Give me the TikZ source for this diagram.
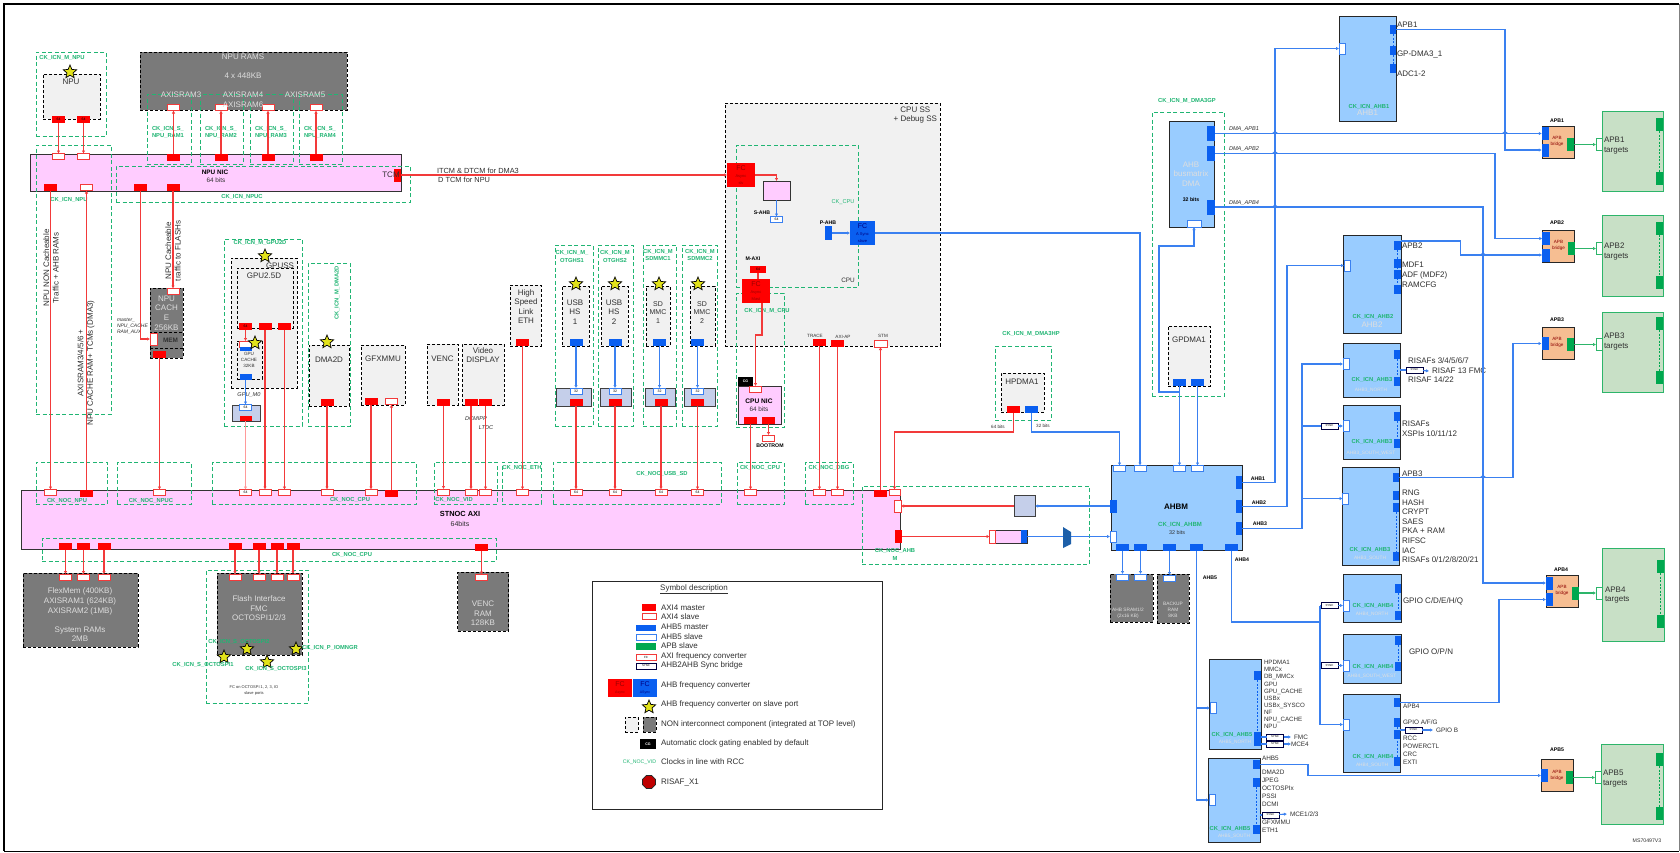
\documentclass[tikz,border=0pt]{standalone}
\usepackage{fontspec}
\setmainfont{Liberation Sans}
\usetikzlibrary{arrows.meta}
\usetikzlibrary{shapes.geometric}
\definecolor{axired}{HTML}{FF0000}
\definecolor{axiline}{HTML}{F23A3A}
\definecolor{axifade}{HTML}{FF9A9A}
\definecolor{ahbblue}{HTML}{0A5FF0}
\definecolor{ahbline}{HTML}{3A80F0}
\definecolor{apbgreen}{HTML}{00A84F}
\definecolor{ckgreen}{HTML}{20B573}
\definecolor{coregray}{HTML}{F1F1F1}
\definecolor{memgray}{HTML}{7A7A7A}
\definecolor{memtext}{HTML}{DEDEDE}
\definecolor{nocpink}{HTML}{FFCCFF}
\definecolor{ahbfill}{HTML}{99CCFF}
\definecolor{brfill}{HTML}{F6BE92}
\definecolor{tgtfill}{HTML}{C8E0C6}
\definecolor{tgtline}{HTML}{2DB56A}
\definecolor{dwfill}{HTML}{C5CFEA}
\definecolor{txtgray}{HTML}{303030}
\definecolor{starfill}{HTML}{E2E21A}
\definecolor{muxblue}{HTML}{1D5FA8}
\tikzset{
        wh/.style 2 args={minimum width=#1pt, minimum height=#2pt},
        plain/.style={inner sep=0pt, outer sep=0pt},
        corebox/.style={plain, draw=black, fill=coregray, line width=0.9pt, dash pattern=on 3pt off 2pt},
        membox/.style={plain, draw=black, fill=memgray, line width=0.9pt, dash pattern=on 3pt off 2pt},
        ckbox/.style={plain, draw=ckgreen, line width=0.9pt, dash pattern=on 4pt off 2.5pt},
        nocbox/.style={plain, draw=black!80, fill=nocpink, line width=0.9pt},
        ahbbox/.style={plain, draw=black!85, fill=ahbfill, line width=1pt},
        brbox/.style={plain, draw=black!85, fill=brfill, line width=0.8pt},
        tgtbox/.style={plain, draw=tgtline, fill=tgtfill, line width=0.9pt},
        dwbox/.style={plain, draw=black!75, fill=dwfill, line width=0.9pt},
        syncbox/.style={plain, draw=black!75!blue, fill=white, line width=0.6pt, minimum width=17pt, minimum height=6pt, font=\fontsize{2.8}{3}\selectfont},
        mred/.style={plain, fill=axired, minimum width=13pt, minimum height=7pt, font=\fontsize{3.5}{4}\selectfont},
        sred/.style={plain, draw=axiline, fill=white, line width=0.7pt, minimum width=12pt, minimum height=6pt, font=\fontsize{3.5}{4}\selectfont},
        mblue/.style={plain, fill=ahbblue, minimum width=13pt, minimum height=7pt},
        sblue/.style={plain, draw=ahbline, fill=white, line width=0.7pt, minimum width=12pt, minimum height=6pt, font=\fontsize{3.5}{4}\selectfont},
        mbluev/.style={plain, fill=ahbblue, minimum width=6.5pt, minimum height=9pt},
        sbluev/.style={plain, draw=ahbline, fill=white, line width=0.7pt, minimum width=6pt, minimum height=11pt},
        mgreen/.style={plain, fill=apbgreen, minimum width=7pt, minimum height=13pt},
        sgreen/.style={plain, draw=tgtline, fill=white, line width=0.7pt, minimum width=6pt, minimum height=12pt},
        fcred/.style={plain, fill=axired, text=red!60!black, align=center, wh={28}{24}, font=\fontsize{4}{7}\selectfont},
        fcblue/.style={plain, fill=ahbblue, text=blue!50!black, align=center, wh={25}{24}, font=\fontsize{4}{7}\selectfont},
        fcstar/.style={plain, star, star points=5, star point ratio=2.2, draw=black, fill=starfill, line width=0.7pt, minimum size=14pt},
        lbl/.style={plain, text=txtgray, align=center, font=\fontsize{8}{9.6}\selectfont},
        lbs/.style={plain, text=txtgray, align=center, font=\fontsize{6.4}{7.4}\selectfont},
        lbt/.style={plain, text=txtgray, align=center, font=\fontsize{4.6}{5.8}\selectfont},
        lbb/.style={plain, text=black, align=center, font=\bfseries\fontsize{5.2}{6}\selectfont},
        lbm/.style={plain, text=memtext, align=center, font=\fontsize{8}{9.6}\selectfont},
        lbmt/.style={plain, text=memtext, align=center, font=\fontsize{4.8}{6.2}\selectfont},
        lbi/.style={plain, text=txtgray, align=left, font=\itshape\fontsize{5.6}{6.6}\selectfont},
        ck/.style={plain, text=ckgreen, align=center, font=\bfseries\fontsize{5.8}{7.6}\selectfont},
        redline/.style={draw=axiline, line width=1.1pt, -{Latex[length=3pt,width=3.4pt]}},
        redfade/.style={draw=axifade, line width=1.1pt, -{Latex[length=3pt,width=3.4pt]}},
        blueline/.style={draw=ahbline, line width=1.1pt, -{Latex[length=3pt,width=3.4pt]}},
        bluebare/.style={draw=ahbline, line width=1.1pt},
        bluedash/.style={draw=ahbblue, line width=0.7pt, dash pattern=on 2pt off 1.5pt},
        greenline/.style={draw=tgtline, line width=1.1pt, -{Latex[length=3pt,width=3.4pt]}},
        greendash/.style={draw=apbgreen, line width=0.7pt, dash pattern=on 2pt off 1.5pt}
}
\begin{document}
\begin{tikzpicture}[x=1pt, y=-1pt]
        \useasboundingbox (0,0) rectangle (1680,852);
        \fill[white] (0,0) rectangle (1680,852);
        \draw[black!50, line width=0.6pt] (1679,4) -- (1679,851);
        \draw[black, line width=1.4pt] (1679,4) -- (4,4) -- (4,851);
        \draw[black, line width=1pt] (4,851) -- (1679,851);

        \node[corebox, wh={57}{45}] (npu) at (71.5,96.5) {};
        \node[membox, wh={207}{58}] (npurams) at (243.5,81) {};
        \node[nocbox, wh={371}{37}] (npunic) at (215.5,172.5) {};
        \node[membox, wh={33}{70}] (npucache) at (166.5,323) {};
        \node[membox, wh={33}{16}] (npumem) at (166.5,340) {};
        \node[corebox, wh={66}{130}] (gpuss) at (264,323) {};
        \node[corebox, wh={56}{60}] (gpu) at (265,298) {};
        \node[corebox, wh={25}{38}] (gpucache) at (249.5,360) {};
        \node[dwbox, wh={28}{16}] (gpudw) at (246,413) {};
        \node[corebox, wh={40}{61}] (dmatwod) at (329,375.5) {};
        \node[corebox, wh={44}{60}] (gfxmmu) at (383,375) {};
        \node[corebox, wh={31}{61}] (venc) at (442.5,374.5) {};
        \node[corebox, wh={42}{61}] (display) at (483,374.5) {};
        \node[corebox, wh={31}{61}] (eth) at (525.5,315.5) {};
        \node[corebox, wh={27}{60}] (usb1) at (575.5,316) {};
        \node[corebox, wh={27}{60}] (usb2) at (614.5,316) {};
        \node[corebox, wh={24}{60}] (sd1) at (658,316) {};
        \node[corebox, wh={25}{60}] (sd2) at (702.5,316) {};
        \node[dwbox, wh={35}{18}] (dw1) at (573.5,397) {};
        \node[dwbox, wh={31}{18}] (dw2) at (615.5,397) {};
        \node[dwbox, wh={30}{18}] (dw3) at (660,397) {};
        \node[dwbox, wh={31}{18}] (dw4) at (699.5,397) {};
        \node[corebox, wh={215}{243}] (cpuss) at (832.5,224.5) {};
        \node[nocbox, wh={27}{19}] (cpubox) at (776.5,190.5) {};
        \node[nocbox, wh={43}{38}] (cpunic) at (759.5,405) {};
        \node[nocbox, wh={879}{59}] (stnoc) at (460.5,519.5) {};
        \node[membox, wh={115}{74}] (flexmem) at (80.5,610) {};
        \node[membox, wh={85}{82}] (flash) at (259.5,614) {};
        \node[membox, wh={51}{59}] (vencram) at (483,601.5) {};
        \node[corebox, wh={43}{39}] (hpdma) at (1022.5,392.5) {};
        \node[corebox, wh={42}{60}] (gpdma) at (1189,356) {};
        \node[ahbbox, wh={45}{106}] (dmamx) at (1191.5,174) {};
        \node[ahbbox, wh={131}{85}] (ahbm) at (1176.5,507.5) {};
        \node[membox, wh={43}{48}] (sram) at (1131.5,598) {};
        \node[membox, wh={32}{49}] (backup) at (1173,598.5) {};
        \node[ahbbox, wh={57}{105}] (ahb1) at (1367.5,68.5) {};
        \node[ahbbox, wh={58}{98}] (ahb2) at (1372,284) {};
        \node[ahbbox, wh={57}{54}] (ahb3n) at (1371.5,370) {};
        \node[ahbbox, wh={57}{54}] (ahb3w) at (1371.5,432) {};
        \node[ahbbox, wh={57}{98}] (ahb3s) at (1370.5,516) {};
        \node[ahbbox, wh={58}{48}] (ahb4n) at (1372,598) {};
        \node[ahbbox, wh={58}{49}] (ahb4w) at (1372,658.5) {};
        \node[ahbbox, wh={57}{78}] (ahb4s) at (1371.5,733) {};
        \node[ahbbox, wh={52}{90}] (ahb5n) at (1235,704) {};
        \node[ahbbox, wh={52}{84}] (ahb5s) at (1234,800) {};
        \node[brbox, wh={32}{32}] (apb1) at (1558,142) {};
        \node[brbox, wh={32}{32}] (apb2) at (1558.5,246) {};
        \node[brbox, wh={32}{32}] (apb3) at (1558,343) {};
        \node[brbox, wh={32}{32}] (apb4) at (1562,591) {};
        \node[brbox, wh={32}{32}] (apb5) at (1557,775) {};
        \node[tgtbox, wh={61}{80}] (tgt1) at (1632.5,151) {};
        \node[tgtbox, wh={61}{81}] (tgt2) at (1632.5,255.5) {};
        \node[tgtbox, wh={61}{80}] (tgt3) at (1632.5,352) {};
        \node[tgtbox, wh={62}{93}] (tgt4) at (1633,594.5) {};
        \node[tgtbox, wh={62}{80}] (tgt5) at (1632,784) {};
        \node[dwbox, wh={21}{21}] (noccbr) at (1024.5,506) {};
        \node[nocbox, wh={38}{13}] (nocdw) at (1008,536.5) {};

        \node[ckbox, wh={70}{84}] (ckmnpu) at (71,94) {};
        \node[ckbox, wh={44}{70}] (ckram1) at (169,129) {};
        \node[ckbox, wh={43}{70}] (ckram2) at (221.5,129) {};
        \node[ckbox, wh={43}{70}] (ckram3) at (271.5,129) {};
        \node[ckbox, wh={43}{70}] (ckram4) at (320.5,129) {};
        \node[ckbox, wh={75}{269}] (cknpu) at (73.5,279.5) {};
        \node[ckbox, wh={294}{36}] (cknpuc) at (263,184) {};
        \node[ckbox, wh={78}{187}] (ckgpu) at (263,332.5) {};
        \node[ckbox, wh={42}{163}] (ckdma2d) at (329,344.5) {};
        \node[ckbox, wh={38}{181}] (ckotg1) at (574,335.5) {};
        \node[ckbox, wh={35}{181}] (ckotg2) at (615.5,335.5) {};
        \node[ckbox, wh={33}{181}] (cksd1) at (659.5,335.5) {};
        \node[ckbox, wh={35}{181}] (cksd2) at (699.5,335.5) {};
        \node[ckbox, wh={122}{142}] (ckcpu) at (797,216) {};
        \node[ckbox, wh={48}{134}] (ckmcpu) at (760,360) {};
        \node[ckbox, wh={71}{42}] (cknocnpu) at (71.5,483) {};
        \node[ckbox, wh={74}{42}] (cknocnpuc) at (154,483) {};
        \node[ckbox, wh={204}{42}] (cknoccpu) at (314,483) {};
        \node[ckbox, wh={63}{42}] (cknocvid) at (465.5,483) {};
        \node[ckbox, wh={39}{42}] (cknoceth) at (521.5,483) {};
        \node[ckbox, wh={168}{42}] (cknocusb) at (637,483) {};
        \node[ckbox, wh={47}{42}] (cknoccpb) at (760.5,483) {};
        \node[ckbox, wh={48}{42}] (cknocdbg) at (829,483) {};
        \node[ckbox, wh={454}{23}] (cknocmem) at (269,549.5) {};
        \node[ckbox, wh={227}{78}] (cknocahb) at (975.5,525) {};
        \node[ckbox, wh={102}{133}] (ckflash) at (257,636.5) {};
        \node[ckbox, wh={56}{74}] (ckdmahp) at (1023,383) {};
        \node[ckbox, wh={72}{284}] (ckdmagp) at (1188,254) {};

        \node[mred] (npum1) at (58.5,119.5) {64};
        \node[mred] (npum2) at (83.5,119.5) {64};
        \node[sred] (nics1) at (58.5,156.5) {};
        \node[sred] (nics2) at (83.5,156.5) {};
        \node[sred] (rams1) at (173.5,107.5) {};
        \node[sred] (rams2) at (221,107.5) {};
        \node[sred] (rams3) at (268,107.5) {};
        \node[sred] (rams4) at (316,107.5) {};
        \node[mred] (nicm1) at (173.5,157.5) {};
        \node[mred] (nicm2) at (221,157.5) {};
        \node[mred] (nicm3) at (268,157.5) {};
        \node[mred] (nicm4) at (316,157.5) {};
        \node[mred] (nicb1) at (50.5,187.5) {};
        \node[sred] (nicb2) at (86.5,187.5) {};
        \node[mred] (nicb3) at (140.5,187.5) {};
        \node[mred] (nicb4) at (173,187.5) {};
        \node[mred, wh={7}{13}] (tcm) at (397.5,175) {};
        \node[sred] (cachetop) at (173,291.5) {};
        \node[sred, wh={7}{12}] (cacheaux) at (153.5,339) {};
        \node[mred] (cachem) at (159.5,354.5) {};
        \node[mred] (gpum1) at (245.5,326) {64};
        \node[mred] (gpum2) at (265,326) {};
        \node[mred] (gpum3) at (284.5,326) {};
        \node[sred] (cachegs) at (245.5,344) {};
        \node[mblue, wh={12}{4}] (cachegb) at (245.5,349) {};
        \node[mblue, wh={12}{6}] (cachegm) at (245.5,377) {};
        \node[sblue] (gpudws) at (245.5,407.5) {64};
        \node[mred, wh={12}{5.5}] (gpudwm) at (245.5,418.5) {};
        \node[mred] (dmam) at (327,402.5) {};
        \node[mred] (gfxm) at (371,401.5) {};
        \node[sred] (gfxs) at (391.5,401.5) {};
        \node[mred] (vencm) at (443.5,402) {};
        \node[mred] (dispm1) at (471,402.5) {};
        \node[mred] (dispm2) at (485.5,402.5) {};
        \node[mred] (ethm) at (522.5,342.5) {};
        \node[mblue] (usb1m) at (576,342.5) {};
        \node[mblue] (usb2m) at (615,342.5) {};
        \node[mblue] (sd1m) at (659.5,342.5) {};
        \node[mblue] (sd2m) at (697.5,342.5) {};
        \node[sblue] (dw1s) at (576,391) {32};
        \node[sblue] (dw2s) at (615,391) {32};
        \node[sblue] (dw3s) at (659.5,391) {32};
        \node[sblue] (dw4s) at (697.5,391) {32};
        \node[mred] (dw1m) at (576,402.5) {};
        \node[mred] (dw2m) at (615,402.5) {};
        \node[mred] (dw3m) at (661,402.5) {};
        \node[mred] (dw4m) at (697.5,402.5) {};
        \node[mred, wh={16}{7}] (maxi) at (758,269.5) {64};
        \node[fcred] (fcslv) at (741,175) {{\fontsize{7}{7}\selectfont FC}\\Async\\slv};
        \node[fcred] (fcmst) at (756,291) {{\fontsize{7}{7}\selectfont FC}\\Async\\Mast};
        \node[fcblue] (fcahb) at (862.5,233) {{\fontsize{7}{7}\selectfont FC}\\A Sync\\slave};
        \node[sblue] (sahb) at (776.5,219.5) {64};
        \node[mblue, wh={7}{14}] (pahb) at (828.5,233) {};
        \node[sred] (cpunics) at (755.5,389) {};
        \node[plain, fill=black, text=white, wh={15}{9}, font=\bfseries\fontsize{3.6}{4}\selectfont] (cpucg) at (745.5,381.5) {CG};
        \node[mred] (cpum1) at (750.5,420.5) {};
        \node[mred] (cpum2) at (768.5,420.5) {};
        \node[sred] (bootrom) at (768.5,438) {};
        \node[mred] (tracem) at (819.5,342.5) {};
        \node[mred] (axiapm) at (837.5,343.5) {};
        \node[sred, wh={13}{7}] (stms) at (880.5,343.5) {};

        \node[sred] (nocs1) at (50.5,492.5) {};
        \node[mred] (nocm1) at (86.5,493.5) {};
        \node[sred] (nocs2) at (159.5,492.5) {};
        \node[sred] (nocs3) at (245.5,492.5) {64};
        \node[sred] (nocs4) at (265,492.5) {};
        \node[sred] (nocs5) at (284.5,492.5) {};
        \node[sred] (nocs6) at (327,492.5) {};
        \node[sred] (nocs7) at (371,492.5) {};
        \node[mred] (nocm2) at (391.5,493.5) {};
        \node[sred] (nocs8) at (443.5,492) {};
        \node[sred] (nocs9) at (471,492.5) {};
        \node[sred] (nocs10) at (485.5,492.5) {};
        \node[sred] (nocs11) at (522.5,492.5) {};
        \node[sred] (nocs12) at (576,492.5) {64};
        \node[sred] (nocs13) at (615,492.5) {64};
        \node[sred] (nocs14) at (661,492.5) {64};
        \node[sred] (nocs15) at (697.5,492.5) {64};
        \node[sred] (nocs16) at (750.5,492.5) {};
        \node[sred] (nocs17) at (819.5,492.5) {};
        \node[sred] (nocs18) at (837.5,492.5) {};
        \node[mred] (nocm3) at (880.5,493) {};
        \node[sred, wh={11}{6}] (nocs19) at (894.5,492.5) {};
        \node[sred, wh={7}{12}] (nocs20) at (897.5,506) {};
        \node[mred, wh={7}{13}] (nocm4) at (898.5,536.5) {};

        \node[mred] (nocb1) at (65.5,546) {};
        \node[mred] (nocb2) at (83.5,546) {};
        \node[mred] (nocb3) at (104,546) {};
        \node[mred] (nocb4) at (235,546) {};
        \node[mred] (nocb5) at (259,546) {};
        \node[mred] (nocb6) at (277,546) {};
        \node[mred] (nocb7) at (293,546) {};
        \node[mred] (nocb8) at (481.5,547.5) {};
        \node[sred] (mems1) at (65.5,577) {};
        \node[sred] (mems2) at (83.5,577) {};
        \node[sred] (mems3) at (104,577) {};
        \node[sred] (flashs1) at (235,577) {};
        \node[sred] (flashs2) at (259,577) {};
        \node[sred] (flashs3) at (277,577) {};
        \node[sred] (flashs4) at (293,577) {};
        \node[sred] (vencrams) at (481.5,577.5) {};

        \node[mred] (hpm1) at (1013.5,409) {};
        \node[mblue] (hpm2) at (1031.5,409) {};
        \node[mblue] (gpm1) at (1179.5,382.5) {};
        \node[mblue] (gpm2) at (1197.5,382.5) {};
        \node[mbluev, wh={8}{15}] (dmam1) at (1211,133.5) {};
        \node[mbluev, wh={8}{15}] (dmam2) at (1211,153.5) {};
        \node[mbluev, wh={8}{15}] (dmam3) at (1211,207) {};
        \node[sblue, wh={14}{7}] (dmas) at (1194,223.5) {};
        \node[sblue] (ahbms1) at (1119.5,468.5) {};
        \node[sblue] (ahbms2) at (1140,468.5) {};
        \node[sblue] (ahbms3) at (1179.5,468.5) {};
        \node[sblue] (ahbms4) at (1197.5,468.5) {};
        \node[sbluev] (ahbms5) at (1113,536.5) {};
        \node[mbluev, wh={7}{13}] (ahbml) at (1113.5,506) {};
        \node[mbluev, wh={6.5}{13}] (ahbmr1) at (1239,482.5) {};
        \node[mbluev, wh={6.5}{13}] (ahbmr2) at (1239,506.5) {};
        \node[mbluev, wh={6.5}{13}] (ahbmr3) at (1239,528.5) {};
        \node[mblue] (ahbmb1) at (1122.5,547) {};
        \node[mblue] (ahbmb2) at (1140.5,547) {};
        \node[mblue] (ahbmb3) at (1169.5,547.5) {};
        \node[mblue] (ahbmb4) at (1196.5,547) {};
        \node[mblue] (ahbmb5) at (1231.5,547) {};
        \node[sblue] (srams1) at (1122.5,577) {};
        \node[sblue] (srams2) at (1140.5,577) {};
        \node[sblue] (backups) at (1169.5,578) {};
        \node[sbluev, wh={6}{13}, draw=axiline] (nocdws) at (992.5,536.5) {};
        \node[mbluev, wh={6.5}{13}] (nocdwm) at (1024,536.5) {};

        \node[sbluev] (ahb1s) at (1342,48.5) {};
        \node[mbluev] (ahb1m1) at (1393,29.5) {};
        \node[mbluev] (ahb1m2) at (1393,50.5) {};
        \node[mbluev] (ahb1m3) at (1393,68.5) {};
        \node[sbluev] (ahb2s) at (1347,265.5) {};
        \node[mbluev] (ahb2m1) at (1397.5,245) {};
        \node[mbluev] (ahb2m2) at (1397.5,263.5) {};
        \node[mbluev] (ahb2m3) at (1397.5,274) {};
        \node[mbluev] (ahb2m4) at (1397.5,289.5) {};
        \node[sbluev] (ahb3ns) at (1346,364) {};
        \node[mbluev] (ahb3nm1) at (1397,354.5) {};
        \node[mbluev] (ahb3nm2) at (1397,381) {};
        \node[sbluev] (ahb3ws) at (1346,426) {};
        \node[mbluev] (ahb3wm1) at (1397,416.5) {};
        \node[mbluev] (ahb3wm2) at (1397,443.5) {};
        \node[sbluev] (ahb3ss) at (1345.5,498.5) {};
        \node[mbluev] (ahb3sm1) at (1396,477.5) {};
        \node[mbluev] (ahb3sm2) at (1396,495) {};
        \node[mbluev] (ahb3sm3) at (1396,507.5) {};
        \node[mbluev] (ahb3sm4) at (1396,556.5) {};
        \node[sbluev] (ahb4ns) at (1346,605.5) {};
        \node[mbluev] (ahb4nm1) at (1398,588.5) {};
        \node[mbluev] (ahb4nm2) at (1398,615) {};
        \node[sbluev] (ahb4ws) at (1346,665.5) {};
        \node[mbluev] (ahb4wm1) at (1398,640.5) {};
        \node[mbluev] (ahb4wm2) at (1398,666.5) {};
        \node[sbluev] (ahb4ss) at (1346,724.5) {};
        \node[mbluev] (ahb4sm1) at (1397,702.5) {};
        \node[mbluev] (ahb4sm2) at (1397,722) {};
        \node[mbluev] (ahb4sm3) at (1397,734.5) {};
        \node[mbluev] (ahb4sm4) at (1397,761.5) {};
        \node[sbluev] (ahb5ns) at (1213,708) {};
        \node[mbluev] (ahb5nm1) at (1257.5,675.5) {};
        \node[mbluev, wh={7}{14}] (ahb5nm2) at (1257.5,739) {};
        \node[sbluev] (ahb5ss) at (1212,800) {};
        \node[mbluev] (ahb5sm1) at (1256.5,764.5) {};
        \node[mbluev] (ahb5sm2) at (1256.5,782) {};
        \node[mbluev] (ahb5sm3) at (1256.5,829) {};

        \node[mbluev, wh={7.5}{13}] (apb1a) at (1545.5,133.5) {};
        \node[mbluev, wh={7.5}{13}] (apb1b) at (1545.5,150) {};
        \node[mgreen] (apb1g) at (1570.5,144.5) {};
        \node[sgreen] (tgt1s) at (1599,144.5) {};
        \node[mgreen] (tgt1m1) at (1659.5,124.5) {};
        \node[mgreen] (tgt1m2) at (1659.5,178.5) {};
        \node[mbluev, wh={7.5}{13}] (apb2a) at (1546,238.5) {};
        \node[mbluev, wh={7.5}{13}] (apb2b) at (1546,255) {};
        \node[mgreen] (apb2g) at (1571,248.5) {};
        \node[sgreen] (tgt2s) at (1599,248.5) {};
        \node[mgreen] (tgt2m1) at (1659.5,228) {};
        \node[mgreen] (tgt2m2) at (1659.5,282.5) {};
        \node[mbluev, wh={7}{13}] (apb3a) at (1545,343.5) {};
        \node[mgreen] (apb3g) at (1570.5,344.5) {};
        \node[sgreen] (tgt3s) at (1599,344.5) {};
        \node[mgreen] (tgt3m1) at (1659.5,323.5) {};
        \node[mgreen] (tgt3m2) at (1659.5,377.5) {};
        \node[mbluev, wh={7}{13}] (apb4a) at (1549.5,583) {};
        \node[mbluev, wh={7}{13}] (apb4b) at (1549.5,599.5) {};
        \node[mgreen] (apb4g) at (1575.5,593) {};
        \node[sgreen] (tgt4s) at (1599,593) {};
        \node[mgreen] (tgt4m1) at (1660.5,566.5) {};
        \node[mgreen] (tgt4m2) at (1660.5,621.5) {};
        \node[mbluev, wh={7}{13}] (apb5a) at (1544.5,775.5) {};
        \node[mgreen] (apb5g) at (1569.5,777.5) {};
        \node[sgreen] (tgt5s) at (1598,777.5) {};
        \node[mgreen] (tgt5m1) at (1659.5,759.5) {};
        \node[mgreen] (tgt5m2) at (1659.5,813.5) {};

        \node[syncbox] (syncr) at (1414.5,370) {SYNC};
        \node[syncbox] (syncw) at (1329.5,426) {SYNC};
        \node[syncbox] (syncgn) at (1329.5,605.5) {SYNC};
        \node[syncbox] (syncgw) at (1329.5,665.5) {SYNC};
        \node[syncbox] (syncgb) at (1413.5,730) {SYNC};
        \node[syncbox] (syncfmc) at (1275,737) {SYNC};
        \node[syncbox] (syncmce) at (1275,744) {SYNC};
        \node[syncbox] (syncmc) at (1270.5,815) {SYNC};

        \node[fcstar] (starnpu) at (70,72) {};
        \node[fcstar] (stargpu) at (265,256) {};
        \node[fcstar] (starcache) at (255,343) {};
        \node[fcstar] (stardma) at (327,342) {};
        \node[fcstar] (starusb1) at (576,284) {};
        \node[fcstar] (starusb2) at (615,284) {};
        \node[fcstar] (starsd1) at (659,284) {};
        \node[fcstar] (starsd2) at (698,284) {};
        \node[fcstar] (starfl1) at (224,657) {};
        \node[fcstar] (starfl2) at (247,649) {};
        \node[fcstar] (starfl3) at (267,662) {};
        \node[fcstar] (starfl4) at (296,649) {};

        \node[plain, draw=black!85, fill=white, line width=0.9pt, wh={290}{228}] (legend) at (737,695) {};
        \node[lbl] (lgtitle) at (694,589) {\underline{Symbol description}};
        \node[plain, fill=axired, wh={14}{7}] (lg1) at (649,607.5) {};
        \node[plain, draw=axiline, fill=white, line width=0.7pt, wh={14}{6}] (lg2) at (649,616) {};
        \node[plain, fill=ahbblue, wh={20}{6.5}] (lg3) at (646,628) {};
        \node[plain, draw=ahbline, fill=white, line width=0.7pt, wh={20}{6.5}] (lg4) at (646,637.5) {};
        \node[plain, fill=apbgreen, wh={20}{7}] (lg5) at (646,646.5) {};
        \node[plain, draw=axiline, fill=white, line width=0.7pt, wh={20}{6.5}, font=\fontsize{3}{3}\selectfont] (lg6) at (646,657.5) {FC};
        \node[syncbox, wh={20}{6}] (lg7) at (646,666) {SYNC};
        \node[fcred, wh={24}{18}, font=\fontsize{3.6}{7}\selectfont] (lg8) at (620,688) {{\fontsize{7}{7}\selectfont FC}\\Async};
        \node[fcblue, wh={24}{18}, font=\fontsize{3.6}{7}\selectfont] (lg9) at (645,688) {{\fontsize{7}{7}\selectfont FC}\\ASync};
        \node[fcstar] (lg10) at (649,707) {};
        \node[corebox, wh={13}{15}] (lg11) at (631.5,724.5) {};
        \node[membox, wh={13}{15}] (lg12) at (649.5,724.5) {};
        \node[plain, fill=black, text=white, wh={16}{10}, font=\bfseries\fontsize{3.6}{4}\selectfont] (lg13) at (648,744) {CG};
        \node[ck, anchor=east, font=\fontsize{5.2}{6}\selectfont] (lg14) at (656,762) {CK\_NOC\_VID};
        \node[plain, regular polygon, regular polygon sides=8, draw=black!85, fill=red!75!black, line width=0.7pt, minimum size=14pt] (lg15) at (649,782) {};
        \node[lbl, anchor=west] (lt1) at (661,608) {AXI4 master};
        \node[lbl, anchor=west] (lt2) at (661,617) {AXI4 slave};
        \node[lbl, anchor=west] (lt3) at (661,627) {AHB5 master};
        \node[lbl, anchor=west] (lt4) at (661,637) {AHB5 slave};
        \node[lbl, anchor=west] (lt5) at (661,646) {APB slave};
        \node[lbl, anchor=west] (lt6) at (661,656) {AXI frequency converter};
        \node[lbl, anchor=west] (lt7) at (661,665) {AHB2AHB Sync bridge};
        \node[lbl, anchor=west] (lt8) at (661,685) {AHB frequency converter};
        \node[lbl, anchor=west] (lt9) at (661,704) {AHB frequency converter on slave port};
        \node[lbl, anchor=west] (lt10) at (661,724) {NON interconnect component (integrated at TOP level)};
        \node[lbl, anchor=west] (lt11) at (661,743) {Automatic clock gating enabled by default};
        \node[lbl, anchor=west] (lt12) at (661,762) {Clocks in line with RCC};
        \node[lbl, anchor=west] (lt13) at (661,782) {RISAF\_X1};

        \node[lbl] (tnpu) at (71,82) {NPU};
        \node[lbm] (trams1) at (243,57) {NPU RAMS};
        \node[lbm] (trams2) at (243,76) {4 x 448KB};
        \node[lbm] (trams3) at (181,95) {AXISRAM3};
        \node[lbm] (trams4) at (243,95) {AXISRAM4};
        \node[lbm] (trams5) at (305,95) {AXISRAM5};
        \node[lbm] (trams6) at (243,105) {AXISRAM6};
        \node[lbb, font=\bfseries\fontsize{6.4}{7.4}\selectfont] (tnic) at (215,172) {NPU NIC};
        \node[lbs] (tnic2) at (216,180) {64 bits};
        \node[lbl] (ttcm) at (391,175) {TCM};
        \node[lbl, rotate=90] (tnon) at (51,268) {NPU NON Cacheable\\Traffic + AHB RAMs};
        \node[lbl, rotate=90] (taxi) at (86,363) {AXISRAM3/4/5/6 +\\NPU CACHE RAM+ TCMs (DMA3)};
        \node[lbl, rotate=90] (tcach) at (173,251) {NPU Cacheable\\traffic to FLASHs};
        \node[lbm] (tcache) at (166.5,313) {NPU\\CACH\\E\\256KB};
        \node[lbl, font=\bfseries\fontsize{6.4}{7.4}\selectfont] (tmem) at (170.5,340) {MEM};
        \node[lbi, anchor=north west, font=\itshape\fontsize{5}{6.2}\selectfont] (taux) at (117,318) {master\_\\NPU\_CACHE\\RAM\_AUX};
        \node[lbl] (tgpuss) at (280,266) {GPUSS};
        \node[lbl] (tgpu) at (264,276) {GPU2.5D};
        \node[lbt] (tgcache) at (249,360) {GPU\\CACHE\\32KB};
        \node[lbi] (tgm0) at (249,395) {GPU\_M0};
        \node[lbl] (tdma2d) at (329,360) {DMA2D};
        \node[lbl] (tgfx) at (383,359) {GFXMMU};
        \node[lbl] (tvenc) at (442.5,359) {VENC};
        \node[lbl] (tvid) at (483,355) {Video\\DISPLAY};
        \node[lbi, anchor=west] (tdcm) at (465,419) {DCMIPP};
        \node[lbi] (tltdc) at (486,428) {LTDC};
        \node[lbl] (teth) at (526,306.5) {High\\Speed\\Link\\ETH};
        \node[lbl] (tusb1) at (575,312) {USB\\HS\\1};
        \node[lbl] (tusb2) at (614,312) {USB\\HS\\2};
        \node[lbs, font=\fontsize{7}{8.4}\selectfont] (tsd1) at (658,312.5) {SD\\MMC\\1};
        \node[lbs, font=\fontsize{7}{8.4}\selectfont] (tsd2) at (702,312.5) {SD\\MMC\\2};
        \node[lbl, anchor=east] (tcpuss) at (937,115) {CPU SS\\+ Debug SS};
        \node[lbl, align=left, anchor=west, font=\fontsize{7.4}{9.4}\selectfont] (tdtcm) at (437,175.5) {ITCM \& DTCM for DMA3\\\,D TCM for NPU};
        \node[lbb] (tsahb) at (762,213) {S-AHB};
        \node[lbb] (tpahb) at (828,223) {P-AHB};
        \node[lbb] (tmaxi) at (753,259) {M-AXI};
        \node[lbs] (tcpu) at (848,280) {CPU};
        \node[lbb, font=\bfseries\fontsize{6.6}{8}\selectfont] (tcnic) at (759,401) {CPU NIC};
        \node[lbs] (tcnic2) at (759,409) {64 bits};
        \node[lbb] (tboot) at (770,446) {BOOTROM};
        \node[lbt] (ttrace) at (815,336) {TRACE};
        \node[lbt] (taxiap) at (843,337) {AXI-AP};
        \node[lbt] (tstm) at (883,336) {STM};
        \node[lbb, font=\bfseries\fontsize{7.4}{9}\selectfont] (tnoc) at (460,514) {STNOC AXI};
        \node[lbs, font=\fontsize{7}{8}\selectfont] (tnoc2) at (460,524) {64bits};
        \node[lbm] (tflex) at (80,615) {FlexMem (400KB)\\AXISRAM1 (624KB)\\AXISRAM2 (1MB)\\[9.6pt]System RAMs\\2MB};
        \node[lbm] (tflash) at (259,608.5) {Flash Interface\\FMC\\OCTOSPI1/2/3};
        \node[lbm] (tvram) at (483,613.5) {VENC\\RAM\\128KB};
        \node[lbt, font=\fontsize{4}{6}\selectfont] (tfcoct) at (254,691) {FC on OCTOSPI 1, 2, 3, IO\\slave ports};
        \node[lbl] (thpd) at (1022,382) {HPDMA1};
        \node[lbl] (tgpd) at (1189,340) {GPDMA1};
        \node[lbt] (t64b) at (998,427) {64 bits};
        \node[lbt] (t32b) at (1043,426) {32 bits};
        \node[lbm] (tmx) at (1191,174) {AHB\\busmatrix\\DMA};
        \node[lbb] (tmx2) at (1191,200) {32 bits};
        \node[lbi, anchor=west] (tda1) at (1229,129) {DMA\_APB1};
        \node[lbi, anchor=west] (tda2) at (1229,149) {DMA\_APB2};
        \node[lbi, anchor=west] (tda3) at (1229,203) {DMA\_APB4};
        \node[lbb, font=\bfseries\fontsize{8}{9}\selectfont] (tahbm) at (1176,507) {AHBM};
        \node[lbt, font=\fontsize{5.4}{6}\selectfont] (tahbm2) at (1177,533) {32 bits};
        \node[lbb] (tah1) at (1258,479) {AHB1};
        \node[lbb] (tah2) at (1259,503) {AHB2};
        \node[lbb] (tah3) at (1260,524) {AHB3};
        \node[lbb] (tah4) at (1242,560) {AHB4};
        \node[lbb] (tah5) at (1210,578) {AHB5};
        \node[lbmt] (tsram) at (1128,613) {AHB SRAM1/2\\(2x16 KB)};
        \node[lbmt] (tback) at (1173,610) {BACKUP\\RAM\\8KB};

        \node[lbl, anchor=west] (tg1a) at (1397,25) {APB1};
        \node[lbl, anchor=west] (tg1b) at (1397,54) {GP-DMA3\_1};
        \node[lbl, anchor=west] (tg1c) at (1397,74) {ADC1-2};
        \node[lbm] (tahb1) at (1367.5,113) {AHB1};
        \node[lbl, anchor=west] (tg2a) at (1402,246) {APB2};
        \node[lbl, anchor=west] (tg2b) at (1402,265) {MDF1};
        \node[lbl, anchor=west] (tg2c) at (1402,275) {ADF (MDF2)};
        \node[lbl, anchor=west] (tg2d) at (1402,285) {RAMCFG};
        \node[lbm] (tahb2) at (1372,325) {AHB2};
        \node[lbl, anchor=west] (tg3a) at (1408,361) {RISAFs 3/4/5/6/7};
        \node[lbl, anchor=west] (tg3b) at (1432,371) {RISAF 13 FMC};
        \node[lbl, anchor=west] (tg3c) at (1408,380) {RISAF 14/22};
        \node[lbmt] (tahb3n) at (1371,390) {AHB3\_NORTH};
        \node[lbl, anchor=west] (tg4a) at (1402,424) {RISAFs};
        \node[lbl, anchor=west] (tg4b) at (1402,434) {XSPIs 10/11/12};
        \node[lbmt] (tahb3w) at (1371,453) {AHB3\_SOUTH\_WEST};
        \node[lbl, anchor=west] (tg5a) at (1402,474) {APB3};
        \node[lbl, anchor=west] (tg5b) at (1402,493) {RNG};
        \node[lbl, anchor=west] (tg5c) at (1402,503) {HASH};
        \node[lbl, anchor=west] (tg5d) at (1402,512) {CRYPT};
        \node[lbl, anchor=west] (tg5e) at (1402,522) {SAES};
        \node[lbl, anchor=west] (tg5f) at (1402,531) {PKA + RAM};
        \node[lbl, anchor=west] (tg5g) at (1402,541) {RIFSC};
        \node[lbl, anchor=west] (tg5h) at (1402,551) {IAC};
        \node[lbl, anchor=west] (tg5i) at (1402,560) {RISAFs 0/1/2/8/20/21};
        \node[lbmt] (tahb3s) at (1370,558) {AHB3\_SOUTH};
        \node[lbl, anchor=west] (tg6a) at (1403,601) {GPIO C/D/E/H/Q};
        \node[lbmt] (tahb4n) at (1372,614) {AHB4\_NORTH};
        \node[lbl, anchor=west] (tg7a) at (1409,652) {GPIO O/P/N};
        \node[lbmt] (tahb4w) at (1372,676) {AHB4\_SOUTH\_WEST};
        \node[lbs, anchor=west] (tg8a) at (1403,706) {APB4};
        \node[lbs, anchor=west] (tg8b) at (1403,722) {GPIO A/F/G};
        \node[lbs, anchor=west] (tg8c) at (1436,730) {GPIO B};
        \node[lbs, anchor=west] (tg8d) at (1403,738) {RCC};
        \node[lbs, anchor=west] (tg8e) at (1403,746) {POWERCTL};
        \node[lbs, anchor=west] (tg8f) at (1403,754) {CRC};
        \node[lbs, anchor=west] (tg8g) at (1403,762) {EXTI};
        \node[lbmt] (tahb4s) at (1372,765) {AHB4\_SOUTH};
        \node[lbs, align=left, anchor=north west, font=\fontsize{6.2}{7.1}\selectfont] (tg9a) at (1264,660.5) {HPDMA1\\MMCx\\DB\_MMCx\\GPU\\GPU\_CACHE\\USBx\\USBx\_SYSCO\\NF\\NPU\_CACHE\\NPU};
        \node[lbs, anchor=west] (tg9b) at (1294,737) {FMC};
        \node[lbs, anchor=west] (tg9c) at (1291,744) {MCE4};
        \node[lbmt] (tahb5n) at (1235,742) {AHB5\_NORTH};
        \node[lbs, anchor=west] (tg10a) at (1262,758) {AHB5};
        \node[lbs, align=left, anchor=north west, font=\fontsize{6.4}{8}\selectfont] (tg10b) at (1262,770) {DMA2D\\JPEG\\OCTOSPIx\\PSSI\\DCMI};
        \node[lbs, anchor=west] (tg10c) at (1290,814) {MCE1/2/3};
        \node[lbs, anchor=west] (tg10d) at (1262,822) {GFXMMU};
        \node[lbs, anchor=west] (tg10e) at (1262,830) {ETH1};
        \node[lbmt] (tahb5s) at (1234,836) {AHB5\_SOUTH};

        \node[lbb] (tb1) at (1557,121) {APB1};
        \node[lbt, text=red!55!black] (tb1a) at (1557,141.5) {APB\\bridge};
        \node[lbb] (tb2) at (1557,223) {APB2};
        \node[lbt, text=red!55!black] (tb2a) at (1558.5,245.5) {APB\\bridge};
        \node[lbb] (tb3) at (1557,320) {APB3};
        \node[lbt, text=red!55!black] (tb3a) at (1557,342) {APB\\bridge};
        \node[lbb] (tb4) at (1561,570) {APB4};
        \node[lbt, text=red!55!black] (tb4a) at (1562,590.5) {APB\\bridge};
        \node[lbb] (tb5) at (1557,750) {APB5};
        \node[lbt, text=red!55!black] (tb5a) at (1557,775) {APB\\bridge};
        \node[lbl, align=left, anchor=west] (tt1) at (1604,145.5) {APB1\\targets};
        \node[lbl, align=left, anchor=west] (tt2) at (1604,251.5) {APB2\\targets};
        \node[lbl, align=left, anchor=west] (tt3) at (1604,341.5) {APB3\\targets};
        \node[lbl, align=left, anchor=west] (tt4) at (1605,595) {APB4\\targets};
        \node[lbl, align=left, anchor=west] (tt5) at (1603,778.5) {APB5\\targets};
        \node[lbs, font=\fontsize{5.2}{6}\selectfont] (tms) at (1647,841) {MS70497V3};

        \node[ck] (ckt1) at (62,58) {CK\_ICN\_M\_NPU};
        \node[ck] (ckt2) at (168,132.5) {CK\_ICN\_S\_\\NPU\_RAM1};
        \node[ck] (ckt3) at (221,132.5) {CK\_ICN\_S\_\\NPU\_RAM2};
        \node[ck] (ckt4) at (271,132.5) {CK\_ICN\_S\_\\NPU\_RAM3};
        \node[ck] (ckt5) at (320,132.5) {CK\_ICN\_S\_\\NPU\_RAM4};
        \node[ck] (ckt6) at (69,200) {CK\_ICN\_NPU};
        \node[ck] (ckt7) at (242,197) {CK\_ICN\_NPUC};
        \node[ck] (ckt8) at (260,243) {CK\_ICN\_M\_GPU2D};
        \node[ck, rotate=90] (ckt9) at (337,293) {CK\_ICN\_M\_DMA2D};
        \node[ck] (ckt10) at (572,256.5) {CK\_ICN\_M\_\\OTGHS1};
        \node[ck] (ckt11) at (615,256.5) {CK\_ICN\_M\\OTGHS2};
        \node[ck] (ckt12) at (658,255) {CK\_ICN\_M\\SDMMC1};
        \node[ck] (ckt13) at (700,255) {CK\_ICN\_M\\SDMMC2};
        \node[ck, font=\fontsize{5.6}{7}\selectfont] (ckt14) at (843,202) {CK\_CPU};
        \node[ck] (ckt15) at (767,311) {CK\_ICN\_M\_CPU};
        \node[ck] (ckt16) at (67,501) {CK\_NOC\_NPU};
        \node[ck] (ckt17) at (151,501) {CK\_NOC\_NPUC};
        \node[ck] (ckt18) at (350,500) {CK\_NOC\_CPU};
        \node[ck] (ckt19) at (454,500) {CK\_NOC\_VID};
        \node[ck] (ckt20) at (522,468) {CK\_NOC\_ETH};
        \node[ck] (ckt21) at (662,474) {CK\_NOC\_USB\_SD};
        \node[ck] (ckt22) at (760,468) {CK\_NOC\_CPU};
        \node[ck] (ckt23) at (829,468) {CK\_NOC\_DBG};
        \node[ck] (ckt24) at (352,555) {CK\_NOC\_CPU};
        \node[ck] (ckt25) at (895,554.5) {CK\_NOC\_AHB\\M};
        \node[ck] (ckt26) at (239,642) {CK\_ICN\_S\_OCTOSPI2};
        \node[ck] (ckt27) at (203,665) {CK\_ICN\_S\_OCTOSPI1};
        \node[ck] (ckt28) at (276,669) {CK\_ICN\_S\_OCTOSPI3};
        \node[ck] (ckt29) at (330,648) {CK\_ICN\_P\_IOMNGR};
        \node[ck] (ckt30) at (1031,334) {CK\_ICN\_M\_DMA3HP};
        \node[ck] (ckt31) at (1187,101) {CK\_ICN\_M\_DMA3GP};
        \node[ck, font=\bfseries\fontsize{6}{7}\selectfont] (ckt32) at (1180,525) {CK\_ICN\_AHBM};
        \node[ck] (ckt33) at (1369,107) {CK\_ICN\_AHB1};
        \node[ck] (ckt34) at (1373,317) {CK\_ICN\_AHB2};
        \node[ck] (ckt35) at (1372,380) {CK\_ICN\_AHB3};
        \node[ck] (ckt36) at (1372,442) {CK\_ICN\_AHB3};
        \node[ck] (ckt37) at (1370,550) {CK\_ICN\_AHB3};
        \node[ck] (ckt38) at (1373,606) {CK\_ICN\_AHB4};
        \node[ck] (ckt39) at (1373,667) {CK\_ICN\_AHB4};
        \node[ck] (ckt40) at (1373,757) {CK\_ICN\_AHB4};
        \node[ck] (ckt41) at (1232,735) {CK\_ICN\_AHB5};
        \node[ck] (ckt42) at (1230,829) {CK\_ICN\_AHB5};

        \coordinate (bhp1) at (894.5,432);
        \coordinate (bhp2) at (1119.5,432);
        \coordinate (bcpu) at (762,335);
        \coordinate (bgp1) at (1179.5,392);
        \coordinate (bgp2) at (1159,392);
        \coordinate (bgp3) at (1194,246);
        \coordinate (bah1) at (1275,48.5);
        \coordinate (bah2) at (1287,265.5);
        \coordinate (bah3) at (1302,364);
        \coordinate (bah3w) at (1302,426);
        \coordinate (bah3s) at (1302,498.5);
        \coordinate (bah4m) at (1320,622);
        \coordinate (bah4t) at (1320,605.5);
        \coordinate (bah4c) at (1320,665.5);
        \coordinate (bah4b) at (1320,724.5);
        \coordinate (bah5n) at (1196.5,708);
        \coordinate (bapb1) at (1505,150);
        \coordinate (bapb2) at (1460.5,255);
        \coordinate (bdma2) at (1495,238.5);
        \coordinate (bdma4) at (1483,583);
        \coordinate (bapb3) at (1513,343.5);
        \coordinate (bapb4) at (1499,599.5);
        \coordinate (bapb5) at (1308,775.5);

        \draw[redline] (npum1) -- (nics1);
        \draw[redline] (npum2) -- (nics2);
        \draw[redline] (nicm1) -- (rams1);
        \draw[redline] (nicm2) -- (rams2);
        \draw[redline] (nicm3) -- (rams3);
        \draw[redline] (nicm4) -- (rams4);
        \draw[redline] (nicb1) -- (nocs1);
        \draw[redline] (nocm1) -- (nicb2);
        \draw[redline] (nicb3) |- (cacheaux);
        \draw[redline] (nicb4) -- (cachetop);
        \draw[redline] (cachem) -- (nocs2);
        \draw[redline] (gpum1) -- (cachegs);
        \draw[blueline] (cachegm) -- (gpudws);
        \draw[redfade] (gpudwm) -- (nocs3);
        \draw[redline] (gpum2) -- (nocs4);
        \draw[redline] (gpum3) -- (nocs5);
        \draw[redline] (dmam) -- (nocs6);
        \draw[redline] (gfxm) -- (nocs7);
        \draw[redline] (nocm2) -- (gfxs);
        \draw[redline] (vencm) -- (nocs8);
        \draw[redline] (dispm1) -- (nocs9);
        \draw[redline] (dispm2) -- (nocs10);
        \draw[redline] (ethm) -- (nocs11);
        \draw[blueline] (usb1m) -- (dw1s);
        \draw[blueline] (usb2m) -- (dw2s);
        \draw[blueline] (sd1m) -- (dw3s);
        \draw[blueline] (sd2m) -- (dw4s);
        \draw[redline] (dw1m) -- (nocs12);
        \draw[redline] (dw2m) -- (nocs13);
        \draw[redline] (dw3m) -- (nocs14);
        \draw[redline] (dw4m) -- (nocs15);
        \draw[redline] (tcm) -- (fcslv);
        \draw[redline] (fcslv.east) -| (cpubox);
        \draw[blueline] (cpubox) -- (sahb);
        \draw[blueline] (pahb) -- (fcahb);
        \draw[blueline] (fcahb.east) -| (ahbms2);
        \draw[bluebare, draw=axiline] (maxi) -- (maxi |- fcmst.north);
        \draw[redline] ([xshift=6pt]fcmst.south) -- (bcpu) -| (cpunics);
        \draw[redline] (cpum1) -- (nocs16);
        \draw[redline] (cpum2) -- (bootrom);
        \draw[redline] (tracem) -- (nocs17);
        \draw[redline] (axiapm) -- (nocs18);
        \draw[redline] (nocm3) -- (stms);
        \draw[redline] (nocb1) -- (mems1);
        \draw[redline] (nocb2) -- (mems2);
        \draw[redline] (nocb3) -- (mems3);
        \draw[redline] (nocb4) -- (flashs1);
        \draw[redline] (nocb5) -- (flashs2);
        \draw[redline] (nocb6) -- (flashs3);
        \draw[redline] (nocb7) -- (flashs4);
        \draw[redline] (nocb8) -- (vencrams);
        \draw[redline] (hpm1) |- (bhp1) -- (nocs19);
        \draw[blueline] (hpm2) |- (bhp2) -- (ahbms1);
        \draw[blueline] (gpm1) -- (ahbms3);
        \draw[blueline] (gpm2) -- (ahbms4);
        \draw[blueline] (bgp1) -- (bgp2) |- (bgp3) -- (dmas);
        \draw[blueline] (ahbml) -- (noccbr);
        \draw[redline] (noccbr) -- (nocs20);
        \draw[redline] (nocm4) -- (nocdws);
        \draw[blueline] (nocdwm) -- (ahbms5);
        \fill[muxblue] (1063,527) -- (1071,532) -- (1071,544) -- (1063,548) -- cycle;
        \draw[blueline] (ahbmb1) -- (srams1);
        \draw[blueline] (ahbmb2) -- (srams2);
        \draw[blueline] (ahbmb3) -- (backups);

        \draw[blueline] (dmam1) -- (apb1a);
        \draw[blueline] (dmam2.east) -| (bdma2) -- (apb2a);
        \draw[blueline] (dmam3.east) -| (bdma4) -- (apb4a);
        \draw[blueline] (ahbmr1.east) -| (bah1) -- (ahb1s);
        \draw[blueline] (ahbmr2.east) -| (bah2) -- (ahb2s);
        \draw[blueline] (ahbmr3.east) -| (bah3) -- (ahb3ns);
        \draw[bluebare] (bah3w) -- (syncw);
        \draw[blueline] (syncw) -- (ahb3ws);
        \draw[blueline] (bah3s) -- (ahb3ss);
        \draw[blueline] (ahb1m1.east) -| (bapb1) -- (apb1b);
        \draw[blueline] ([yshift=4pt]ahb2m1.east) -| (bapb2) -- (apb2b);
        \draw[blueline] (ahb3sm1.east) -| (bapb3) -- (apb3a);
        \draw[bluebare] (ahbmb5) |- (bah4m);
        \draw[bluebare] (bah4t) -- (bah4b);
        \draw[bluebare] (bah4t) -- (syncgn);
        \draw[blueline] (syncgn) -- (ahb4ns);
        \draw[bluebare] (bah4c) -- (syncgw);
        \draw[blueline] (syncgw) -- (ahb4ws);
        \draw[blueline] (bah4b) -- (ahb4ss);
        \draw[blueline] (ahb4sm1.east) -| (bapb4) -- (apb4b);
        \draw[blueline] (ahbmb4) |- (ahb5ss);
        \draw[blueline] (bah5n) -- (ahb5ns);
        \draw[blueline] (ahb5sm1.east) -| (bapb5) -- (apb5a);
        \draw[bluebare] (ahb3n.east |- syncr) -- (syncr);
        \draw[blueline] (syncr) -- ([xshift=-3pt]tg3b.west);
        \draw[bluebare] (ahb4s.east |- syncgb) -- (syncgb);
        \draw[blueline] (syncgb) -- ([xshift=-3pt]tg8c.west);
        \draw[bluebare] (ahb5n.east |- syncfmc) -- (syncfmc);
        \draw[bluebare] (ahb5n.east |- syncmce) -- (syncmce);
        \draw[blueline] (syncfmc) -- ([xshift=-3pt]tg9b.west);
        \draw[blueline] (syncmce) -- (tg9c.west);
        \draw[bluebare] (ahb5s.east |- syncmc) -- (syncmc);
        \draw[blueline] (syncmc) -- ([xshift=-3pt]tg10c.west);

        \draw[bluedash] (ahb1m1) -- (ahb1m3);
        \draw[bluedash] (ahb2m1) -- (ahb2m4);
        \draw[bluedash] (ahb3nm1) -- (ahb3nm2);
        \draw[bluedash] (ahb3wm1) -- (ahb3wm2);
        \draw[bluedash] (ahb3sm3) -- (ahb3sm4);
        \draw[bluedash] (ahb4nm1) -- (ahb4nm2);
        \draw[bluedash] (ahb4wm1) -- (ahb4wm2);
        \draw[bluedash] (ahb4sm2) -- (ahb4sm4);
        \draw[bluedash] (ahb5nm1) -- (ahb5nm2);
        \draw[bluedash] (ahb5sm2) -- (ahb5sm3);

        \draw[greenline] (apb1g) -- (tgt1s);
        \draw[greenline] (apb2g) -- (tgt2s);
        \draw[greenline] (apb3g) -- (tgt3s);
        \draw[greenline] (apb4g) -- (tgt4s);
        \draw[greenline] (apb5g) -- (tgt5s);
        \draw[greendash] (tgt1m1) -- (tgt1m2);
        \draw[greendash] (tgt2m1) -- (tgt2m2);
        \draw[greendash] (tgt3m1) -- (tgt3m2);
        \draw[greendash] (tgt4m1) -- (tgt4m2);
        \draw[greendash] (tgt5m1) -- (tgt5m2);

        \foreach \hx/\hy in {1275/133.5,1275/153.5,1275/207,1505/133.5,1483/255,1483/477.5}
                \draw[bluebare] (\hx-2.5,\hy) .. controls (\hx-1.5,\hy-2.5) and (\hx+1.5,\hy-2.5) .. (\hx+2.5,\hy);
\end{tikzpicture}
\end{document}
